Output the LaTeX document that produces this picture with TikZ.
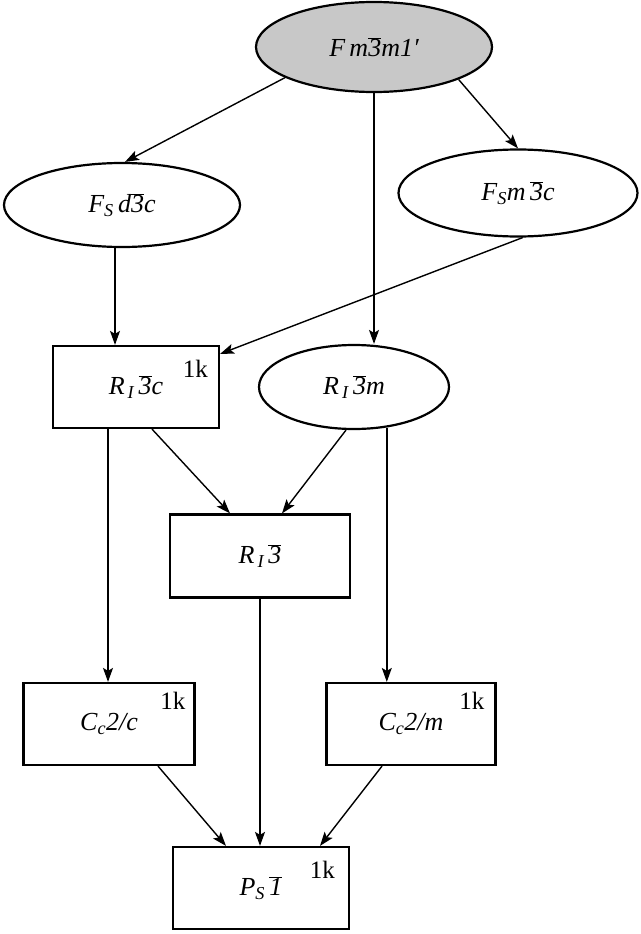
\documentclass[tikz,border=0pt]{standalone}
\usepackage{fontspec}
\setmainfont{Liberation Serif}
\usetikzlibrary{shapes.geometric,arrows.meta,calc}
\definecolor{topgray}{RGB}{200,200,200}
\newcommand\ob[1]{\ensuremath{\overline{\mbox{#1}}}}
\begin{document}
\begin{tikzpicture}[x=1pt,y=-1pt,
  lbl/.style={font=\fontsize{26}{30}\selectfont\itshape},
  ell/.style={ellipse,draw,line width=2.2pt,inner sep=0pt,lbl},
  boxn/.style={rectangle,draw,line width=2.2pt,inner sep=0pt,lbl},
  kk/.style={font=\fontsize{25}{29}\selectfont,anchor=north east,inner sep=0pt},
  arr/.style={line width=1.4pt,-{Stealth[length=14pt,width=10pt,inset=3pt]}}]
\path[use as bounding box] (0,0) rectangle (640,934);
\node[ell,fill=topgray,minimum width=236pt,minimum height=90pt] (top) at (374,47) {F\,m\ob{3}m1′};
\node[ell,minimum width=236pt,minimum height=84pt] (fsd) at (122,205) {F\textsubscript{S}\,d\ob{3}c};
\node[ell,minimum width=239pt,minimum height=87pt] (fsm) at (518,193) {F\textsubscript{S}m\,\ob{3}c};
\node[boxn,minimum width=166pt,minimum height=82pt] (r3c) at (136,387) {R\textsubscript{\,I}\,\ob{3}c};
\node[ell,minimum width=190pt,minimum height=84pt] (r3m) at (354,387) {R\textsubscript{\,I}\,\ob{3}m};
\node[boxn,minimum width=180pt,minimum height=83pt] (r3) at (260,556) {R\textsubscript{\,I}\,\ob{3}};
\node[boxn,minimum width=171pt,minimum height=82pt] (c2c) at (109,724) {C\textsubscript{c}2/c};
\node[boxn,minimum width=169pt,minimum height=82pt] (c2m) at (411,724) {C\textsubscript{c}2/m};
\node[boxn,minimum width=176pt,minimum height=82pt] (ps) at (261,888) {P\textsubscript{S}\,\ob{1}};
\node[kk] (k1) at ($(r3c.north east)+(-12,15)$) {1k};
\node[kk] (k2) at ($(c2c.north east)+(-10,10)$) {1k};
\node[kk] (k3) at ($(c2m.north east)+(-12,10)$) {1k};
\node[kk] (k4) at ($(ps.north east)+(-15,15)$) {1k};
\coordinate (p1) at ($(fsd.south)+(-7,0)$);
\coordinate (p2) at ($(r3c.south)+(-28,0)$);
\coordinate (p3) at (r3m.-51);
\draw[arr] (top.199) -- (fsd.86);
\draw[arr] (top.south) -- (top.south |- r3m.north);
\draw[arr] (top.-21) -- (fsm.north);
\draw[arr] (p1) -- (p1 |- r3c.north);
\draw[arr] (fsm.-84) -- ($(r3c.north east)+(0,9)$);
\draw[arr] ($(r3c.south)+(16,0)$) -- ($(r3.north)+(-30,0)$);
\draw[arr] ($(r3m.south)+(-8,0)$) -- ($(r3.north)+(22,0)$);
\draw[arr] (p2) -- (p2 |- c2c.north);
\draw[arr] (p3) -- (p3 |- c2m.north);
\draw[arr] (r3.south) -- (r3.south |- ps.north);
\draw[arr] ($(c2c.south)+(49,0)$) -- ($(ps.north)+(-35,0)$);
\draw[arr] ($(c2m.south)+(-29,0)$) -- ($(ps.north)+(59,0)$);
\end{tikzpicture}
\end{document}
